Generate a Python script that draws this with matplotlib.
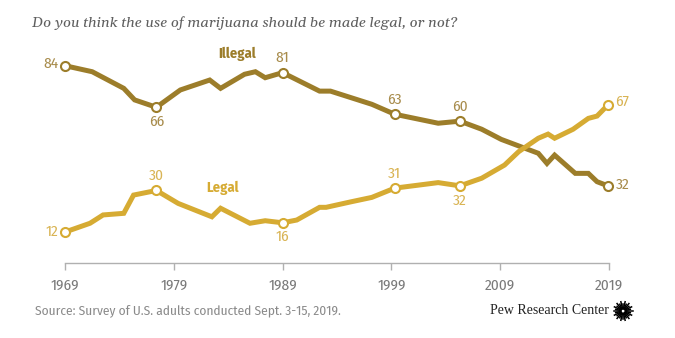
import numpy as np
import matplotlib
matplotlib.use("Agg")
import matplotlib.pyplot as plt
from matplotlib.lines import Line2D

# Share of U.S. adults saying marijuana use should be legal / illegal
illegal_years = [1969, 1971.5, 1974.4, 1975.4, 1977.4, 1979.6, 1982.3, 1983.3,
                 1985.5, 1986.5, 1987.4, 1989, 1992.4, 1993.4, 1997.2, 1999.3,
                 2003.3, 2005.3, 2007.3, 2009.1, 2012.5, 2013.3, 2014.0, 2015.9,
                 2017.1, 2017.9, 2018.9]
illegal = [84, 81.4, 74.2, 69.2, 66, 73.5, 77.8, 74.2,
           80.3, 81.4, 78.8, 81, 73.0, 73.0, 67.3, 63,
           59.1, 60, 56.5, 52.1, 46.1, 41.7, 45.3, 37.4,
           37.4, 33.8, 32]

legal_years = [1969, 1971.3, 1972.5, 1974.4, 1975.3, 1977.4, 1979.4, 1982.5,
               1983.3, 1986.0, 1987.4, 1989, 1990.3, 1992.4, 1993.0, 1995.3,
               1997.2, 1999.3, 2003.3, 2005.3, 2007.3, 2009.4, 2010.7, 2012.5,
               2013.4, 2014.0, 2015.7, 2017.1, 2017.9, 2018.9]
legal = [12, 15.8, 19.4, 20.1, 28.0, 30, 24.4, 18.6,
         22.3, 15.8, 16.9, 16, 17.2, 22.7, 22.7, 25.1,
         27.0, 31, 33.4, 32, 35.3, 41.0, 46.8, 52.6,
         54.4, 52.6, 56.5, 61.2, 62.2, 67]

# indices of labelled points and where their numbers sit (dx, dy in points, ha)
illegal_marks = {0: (-5, 1.5, "right"), 4: (0, -10.5, "center"), 11: (0, 10.5, "center"),
                 15: (0, 10.5, "center"), 17: (0, 10.5, "center"), 26: (5.5, 0.5, "left")}
legal_marks = {0: (-5, 0, "right"), 5: (0, 10.5, "center"), 11: (0, -10, "center"),
               17: (0, 10.5, "center"), 19: (0, -11, "center"), 29: (5.5, 2, "left")}

tick_years = [1969, 1979, 1989, 1999, 2009, 2019]

ILLEGAL_C = "#9c7d2a"
LEGAL_C = "#d6ab33"
ILLEGAL_TXT = "#a88c4c"
LEGAL_TXT = "#d9b454"
GREY = "#7a7a7a"
NARROW = ["Fira Sans Condensed", "DejaVu Sans"]

fig = plt.figure(figsize=(6.75, 3.38), dpi=100)
fig.patch.set_facecolor("white")
ax = fig.add_axes([65 / 675, 75 / 338, 544 / 675, 213 / 338])
ax.set_xlim(1969, 2019)
ax.set_ylim(-1.4, 90.8)

for xs, ys, col, tcol, marks in [(illegal_years, illegal, ILLEGAL_C, ILLEGAL_TXT, illegal_marks),
                                 (legal_years, legal, LEGAL_C, LEGAL_TXT, legal_marks)]:
    ax.plot(xs, ys, color=col, lw=3.6, solid_joinstyle="miter", zorder=2, clip_on=False)
    mx = [xs[i] for i in marks]
    my = [ys[i] for i in marks]
    ax.plot(mx, my, "o", ms=6.5, mfc="white", mec=col, mew=1.5, zorder=3, clip_on=False)
    for i, (dx, dy, ha) in marks.items():
        ax.annotate(f"{ys[i]:.0f}", (xs[i], ys[i]), xytext=(dx, dy),
                    textcoords="offset points", ha=ha, va="center",
                    color=tcol, fontsize=11, family=NARROW)

ax.text(1984.8, 89.2, "Illegal", color=ILLEGAL_C, fontsize=10.5, fontweight="bold",
        ha="center", va="center", family=NARROW)
ax.text(1983.5, 30.9, "Legal", color=LEGAL_C, fontsize=10.5, fontweight="bold",
        ha="center", va="center", family=NARROW)

for side in ["top", "right", "left"]:
    ax.spines[side].set_visible(False)
ax.spines["bottom"].set_color("#b0b0b0")
ax.spines["bottom"].set_linewidth(1)
ax.set_yticks([])
ax.set_xticks(tick_years)
ax.set_xticklabels([str(y) for y in tick_years], family=NARROW, fontsize=11, color=GREY)
ax.tick_params(axis="x", length=5, width=1, color="#b0b0b0", pad=6)

fig.text(32 / 675, 1 - 23 / 338, "Do you think the use of marijuana should be made legal, or not?",
         fontsize=10.7, style="italic", color="#5f5f5f", family=["Gelasio", "DejaVu Serif"],
         ha="left", va="center")
fig.text(35 / 675, 1 - 311 / 338, "Source: Survey of U.S. adults conducted Sept. 3-15, 2019.",
         fontsize=9.6, color="#8a8a8a", family=NARROW, ha="left", va="center")
fig.text(609 / 675, 1 - 311 / 338, "Pew Research Center", fontsize=10,
         color="#222222", family=["Liberation Serif"], ha="right", va="center")

# sunburst mark next to the name
cx, cy = 623, 311
angles = np.linspace(0, 2 * np.pi, 28, endpoint=False)
for k, a in enumerate(angles):
    r1 = 2.5
    r2 = 9.5 if k % 2 == 0 else 7.5
    x0, y0 = cx + r1 * np.cos(a), cy + r1 * np.sin(a)
    x1, y1 = cx + r2 * np.cos(a), cy + r2 * np.sin(a)
    fig.add_artist(Line2D([x0 / 675, x1 / 675], [1 - y0 / 338, 1 - y1 / 338],
                          color="black", lw=1.1, transform=fig.transFigure))

fig.savefig("out.png", dpi=100, facecolor="white")
